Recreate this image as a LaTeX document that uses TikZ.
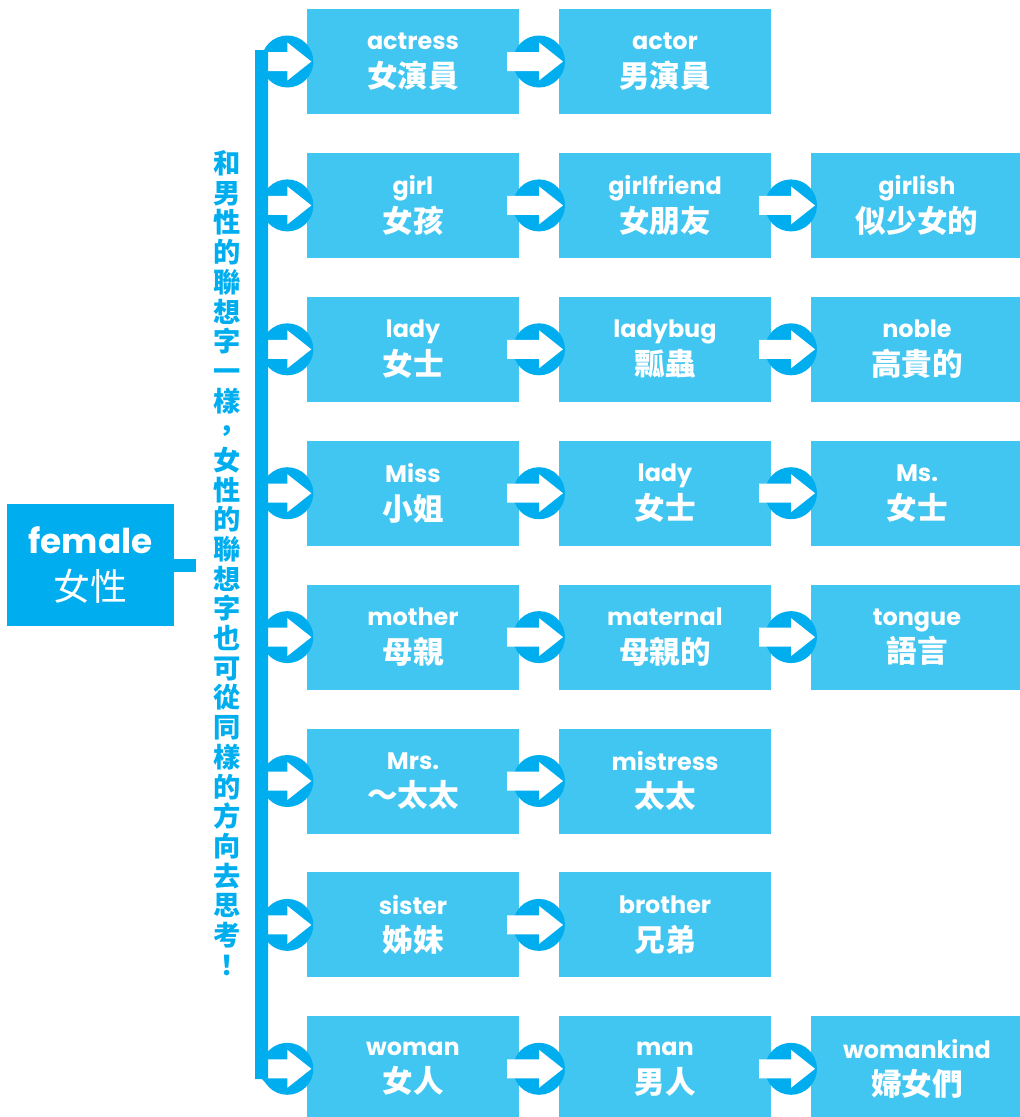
\documentclass[tikz,border=0pt]{standalone}
\usepackage{fontspec}
\setmainfont{Noto Sans CJK TC}
\newfontfamily\enfont{Poppins}
\usetikzlibrary{calc}
\tikzset{>=latex}
\definecolor{deepblue}{HTML}{00AEEF}
\definecolor{lightblue}{HTML}{41C6F2}
\tikzset{
  word/.style={fill=lightblue,text=white,minimum width=4.24cm,minimum height=2.1cm,
    inner sep=0pt,align=center,font=\bfseries\fontsize{17.4}{21.5}\selectfont},
  mainword/.style={fill=deepblue,text=white,minimum width=3.34cm,minimum height=2.44cm,
    inner sep=0pt,align=center,font=\fontsize{21}{26.7}\selectfont},
  note/.style={text=deepblue,inner sep=0pt,align=center,
    font=\bfseries\fontsize{15.5}{16.9}\selectfont}
}
% 圆形箭头: 从 #1 指向 #2
\newcommand\linkarrow[2]{
  \fill[deepblue] ($(#1)!0.5!(#2)$) circle (0.52cm);
  \fill[white] ($(#1)!0.5!(#2)+(-32,-9.5)$) -- ++(32,0) -- ++(0,-9.5) -- ++(24,19)
    -- ++(-24,19) -- ++(0,-9.5) -- ++(-32,0) -- cycle;
}
\begin{document}
\begin{tikzpicture}[x=0.02cm,y=-0.02cm]
\useasboundingbox (0,0) rectangle (1019,1117);
% 左边的主词
\node[mainword] (female) at (90.5,565) {{\enfont\bfseries\fontsize{19.5}{26.7}\selectfont female}\\女性};
\draw[deepblue,line width=0.26cm] (female.east) -- ++(22,0);
% 竖排的说明文字
\node[note] (note) at (227,563) {和\\男\\性\\的\\聯\\想\\字\\一\\樣\\，\\女\\性\\的\\聯\\想\\字\\也\\可\\從\\同\\樣\\的\\方\\向\\去\\思\\考\\！};
% 每一行的单词, 每行第一个从竖线连出
\foreach \row/\words in {
  1/{actress/女演員,actor/男演員},
  2/{girl/女孩,girlfriend/女朋友,girlish/似少女的},
  3/{lady/女士,ladybug/瓢蟲,noble/高貴的},
  4/{Miss/小姐,lady/女士,Ms./女士},
  5/{mother/母親,maternal/母親的,tongue/語言},
  6/{Mrs./～太太,mistress/太太},
  7/{sister/姊妹,brother/兄弟},
  8/{woman/女人,man/男人,womankind/婦女們}}
{
  \pgfmathsetmacro\ry{61.5+143.9*(\row-1)}
  \coordinate (hub\row) at (268,\ry);
  \foreach \eng/\chn [count=\col] in \words {
    \node[word] (r\row-\col) at ({413+252*(\col-1)},\ry) {{\enfont\fontsize{13.6}{21.5}\selectfont \eng}\\\chn};
    \pgfmathtruncatemacro\prev{\col-1}
    \ifnum\col=1 \linkarrow{hub\row}{r\row-\col.west} \else \linkarrow{r\row-\prev.east}{r\row-\col.west} \fi
  }
}
% 竖线
\fill[deepblue] (255,50) -- (268,50) -- (268,1085) -- (262,1079) -- (255,1079) -- cycle;
\end{tikzpicture}
\end{document}
